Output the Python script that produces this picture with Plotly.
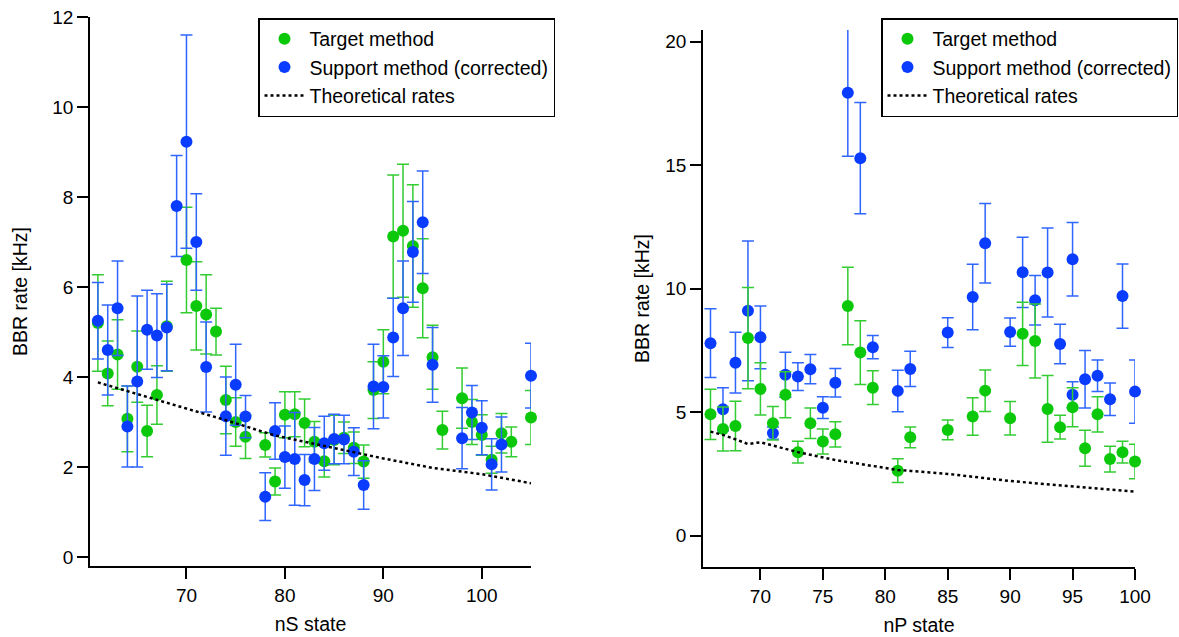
import plotly.graph_objects as go

# ---------------- Left panel: nS states ----------------
nS_target_n = [61, 62, 63, 64, 65, 66, 67, 68, 70, 71, 72, 73, 74, 75, 76, 78, 79, 80, 81, 82,
               83, 84, 85, 86, 87, 88, 89, 90, 91, 92, 93, 94, 95, 96, 98, 99, 100, 101, 102, 103, 105]
nS_target_rate = [5.2, 4.08, 4.5, 3.07, 4.23, 2.8, 3.6, 5.13, 6.6, 5.58, 5.39, 5.01, 3.49, 3.0, 2.67, 2.49, 1.68, 3.16, 3.17, 2.98,
                  2.56, 2.13, 2.6, 2.65, 2.43, 2.12, 3.71, 4.34, 7.12, 7.25, 6.91, 5.97, 4.44, 2.82, 3.53, 3.0, 2.71, 2.16, 2.75, 2.56, 3.1]
nS_target_err = [1.07, 0.72, 0.77, 0.73, 0.79, 0.57, 0.65, 1.0, 1.17, 0.98, 0.88, 0.52, 0.75, 0.54, 0.48, 0.27, 0.3, 0.51, 0.5, 0.53,
                 0.45, 0.35, 0.55, 0.35, 0.35, 0.37, 0.63, 0.71, 1.37, 1.48, 1.36, 1.1, 0.71, 0.42, 0.67, 0.5, 0.45, 0.3, 0.44, 0.33, 0.6]

nS_support_n = [61, 62, 63, 64, 65, 66, 67, 68, 69, 70, 71, 72, 74, 75, 76, 78, 79, 80, 81, 82,
                83, 84, 85, 86, 87, 88, 89, 90, 91, 92, 93, 94, 95, 98, 99, 100, 101, 102, 105]
nS_support_rate = [5.25, 4.6, 5.53, 2.9, 3.9, 5.05, 4.92, 5.1, 7.8, 9.23, 7.0, 4.22, 3.13, 3.83, 3.12, 1.34, 2.8, 2.22, 2.18, 1.71,
                   2.18, 2.53, 2.62, 2.61, 2.34, 1.6, 3.79, 3.78, 4.88, 5.53, 6.78, 7.44, 4.27, 2.64, 3.21, 2.87, 2.06, 2.5, 4.03]
nS_support_err = [0.85, 1.0, 1.05, 0.9, 1.9, 0.88, 0.93, 0.96, 1.12, 2.37, 1.07, 1.0, 0.87, 0.9, 0.47, 0.53, 0.63, 0.69, 1.03, 0.57,
                  0.7, 0.6, 0.55, 0.54, 0.53, 0.54, 0.94, 0.69, 0.87, 1.05, 1.12, 1.14, 0.83, 0.68, 0.6, 0.6, 0.57, 0.61, 0.72]

nS_theory_n = [61, 63, 67, 70, 74, 79, 82, 87, 90, 95, 100, 105]
nS_theory_rate = [3.88, 3.75, 3.5, 3.3, 3.04, 2.7, 2.56, 2.34, 2.19, 1.98, 1.84, 1.64]

# ---------------- Right panel: nP states ----------------
nP_target_n = [66, 67, 68, 69, 70, 71, 72, 73, 74, 75, 76, 77, 78, 79, 81, 82, 85, 87, 88, 90,
               91, 92, 93, 94, 95, 96, 97, 98, 99, 100]
nP_target_rate = [4.91, 4.32, 4.44, 8.0, 5.94, 4.55, 5.7, 3.38, 4.55, 3.81, 4.1, 9.3, 7.41, 5.99, 2.63, 3.98, 4.28, 4.82, 5.87, 4.75,
                  8.17, 7.88, 5.13, 4.39, 5.2, 3.54, 4.91, 3.1, 3.38, 3.0]
nP_target_err = [1.02, 0.89, 1.0, 2.05, 1.06, 0.68, 0.93, 0.44, 0.62, 0.51, 0.51, 1.57, 1.29, 0.68, 0.48, 0.42, 0.4, 0.76, 0.84, 0.68,
                 1.28, 1.5, 1.35, 0.48, 0.79, 0.73, 0.71, 0.52, 0.44, 0.7]

nP_support_n = [66, 67, 68, 69, 70, 71, 72, 73, 74, 75, 76, 77, 78, 79, 81, 82, 85, 87, 88, 90,
                91, 92, 93, 94, 95, 95, 96, 97, 98, 99, 100]
nP_support_rate = [7.79, 5.12, 7.0, 9.1, 8.03, 4.15, 6.51, 6.44, 6.74, 5.18, 6.19, 17.93, 15.28, 7.63, 5.86, 6.75, 8.22, 9.66, 11.84, 8.24,
                   10.66, 9.53, 10.65, 7.76, 11.19, 5.7, 6.33, 6.47, 5.52, 9.7, 5.83]
nP_support_err = [1.39, 0.87, 1.23, 2.83, 1.27, 0.25, 0.91, 0.56, 0.59, 0.44, 0.58, 2.57, 2.25, 0.47, 0.84, 0.71, 0.6, 1.33, 1.61, 0.57,
                  1.42, 1.0, 1.8, 0.8, 1.49, 0.53, 1.16, 0.64, 0.66, 1.3, 1.28]

nP_theory_n = [66, 67, 68, 69, 70, 73, 76, 81, 82, 85, 90, 95, 100]
nP_theory_rate = [4.21, 4.08, 3.9, 3.71, 3.78, 3.38, 3.06, 2.66, 2.62, 2.5, 2.21, 1.98, 1.78]

# ---------------- Styles ----------------
GREEN = "#0BC80B"
GREEN_ERR = "#33CC33"
BLUE = "#0A3CFF"
BLUE_ERR = "#2F66FF"
FONT = "Liberation Sans, Arial, sans-serif"

fig = go.Figure()


def pts(x, y, err, name, color, ecolor, xa, ya, legend, rank):
    return go.Scatter(
        x=x, y=y, mode="markers", name=name,
        marker=dict(color=color, size=12, line=dict(width=0)),
        error_y=dict(type="data", array=err, visible=True, color=ecolor, thickness=1.5, width=6),
        xaxis=xa, yaxis=ya, legend=legend, legendrank=rank, cliponaxis=False,
    )


def theory(x, y, xa, ya, legend):
    return go.Scatter(
        x=x, y=y, mode="lines", name="Theoretical rates",
        line=dict(color="black", width=2.5, dash="3px,3px"),
        xaxis=xa, yaxis=ya, legend=legend, legendrank=3, cliponaxis=False,
    )


# Left panel: blue drawn above green
fig.add_trace(pts(nS_target_n, nS_target_rate, nS_target_err, "Target method", GREEN, GREEN_ERR, "x", "y", "legend", 1))
fig.add_trace(pts(nS_support_n, nS_support_rate, nS_support_err, "Support method (corrected)", BLUE, BLUE_ERR, "x", "y", "legend", 2))
fig.add_trace(theory(nS_theory_n, nS_theory_rate, "x", "y", "legend"))

# Right panel: green drawn above blue
fig.add_trace(pts(nP_support_n, nP_support_rate, nP_support_err, "Support method (corrected)", BLUE, BLUE_ERR, "x2", "y2", "legend2", 2))
fig.add_trace(pts(nP_target_n, nP_target_rate, nP_target_err, "Target method", GREEN, GREEN_ERR, "x2", "y2", "legend2", 1))
fig.add_trace(theory(nP_theory_n, nP_theory_rate, "x2", "y2", "legend2"))

W, H = 1179, 637

axis_common = dict(
    showgrid=False, zeroline=False, showline=True, linecolor="black", linewidth=1.5,
    ticks="outside", ticklen=11, tickwidth=1.5, tickcolor="black",
    tickfont=dict(family=FONT, size=19, color="black"),
    title_font=dict(family=FONT, size=19.5, color="black"),
    mirror=False, automargin=False,
)

legend_common = dict(
    bgcolor="white", bordercolor="black", borderwidth=1.5,
    font=dict(family=FONT, size=19.5, color="black"),
    xanchor="left", yanchor="top", traceorder="normal",
    tracegroupgap=0, itemwidth=40,
)

fig.update_layout(
    width=W, height=H,
    margin=dict(l=0, r=0, t=0, b=0),
    paper_bgcolor="white", plot_bgcolor="white",
    font=dict(family=FONT, size=19, color="black"),
    showlegend=True,
    xaxis=dict(domain=[90 / W, 531 / W], range=[60.2, 105], tickvals=[70, 80, 90, 100],
               title=dict(text="nS state", standoff=13), anchor="y", **axis_common),
    yaxis=dict(domain=[1 - 566 / H, 1 - 17 / H], range=[-0.2, 12], tickvals=[0, 2, 4, 6, 8, 10, 12],
               title=dict(text="BBR rate [kHz]", standoff=19), anchor="x", **axis_common),
    xaxis2=dict(domain=[703 / W, 1135 / W], range=[65.4, 100], tickvals=[70, 75, 80, 85, 90, 95, 100],
                title=dict(text="nP state", standoff=13), anchor="y2", **axis_common),
    yaxis2=dict(domain=[1 - 567 / H, 1 - 30 / H], range=[-1.27, 20.47], tickvals=[0, 5, 10, 15, 20],
                title=dict(text="BBR rate [kHz]", standoff=10), anchor="x2", **axis_common),
    legend=dict(x=258 / W, y=1 - 18 / H, **legend_common),
    legend2=dict(x=881 / W, y=1 - 18 / H, **legend_common),
)

fig.write_html("out.html", config={"displayModeBar": False},
               post_script="document.body.style.margin='0px';")
